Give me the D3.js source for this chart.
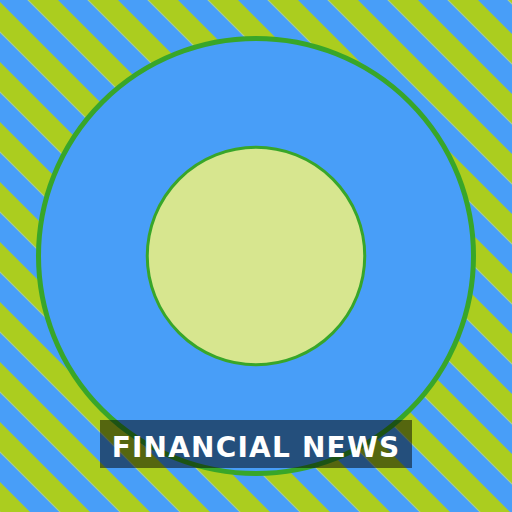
<!DOCTYPE html>
<html>
<head>
<meta charset="utf-8">
<script src="https://cdn.jsdelivr.net/npm/d3@7"></script>
<style>
  body { margin: 0; padding: 0; overflow: hidden; }
</style>
</head>
<body>
<div id="mysvg"></div>
<script>
// values
var rings = ["outer", "inner"];
var ringSize = [1, 0.5];
var ringFill = ["#489ef8", "#d7e68f"];
var stripeColors = ["#489ef8", "#abcd1f"];
var labelText = ["FINANCIAL NEWS"];

var w = 512;
var h = 512;
var cx = w / 2, cy = h / 2;

var svg = d3.select("#mysvg")
  .append("svg")
    .attr("width", w)
    .attr("height", h);

// diagonal stripes in the background
var period = 60 / Math.SQRT2;
var pattern = svg.append("defs")
  .append("pattern")
    .attr("id", "stripes")
    .attr("patternUnits", "userSpaceOnUse")
    .attr("width", period)
    .attr("height", period)
    .attr("x", -2 / Math.SQRT2)
    .attr("patternTransform", "rotate(-45)");

var stripeX = d3.scaleBand()
  .domain(stripeColors.map((d, i) => i))
  .range([0, period]);

pattern.selectAll("rect")
  .data(stripeColors)
  .enter().append("rect")
    .attr("x", (d, i) => stripeX(i))
    .attr("y", 0)
    .attr("width", stripeX.bandwidth())
    .attr("height", period)
    .attr("fill", d => d);

svg.append("rect")
   .attr("x", 0)
   .attr("y", 0)
   .attr("width", w)
   .attr("height", h)
   .attr("fill", "url(#stripes)");

var r = d3.scaleLinear()
  .domain([0, 1])
  .range([0, 217.5]);

svg.selectAll("circle.ring")
  .data(rings)
  .enter().append("circle")
    .attr("class", "ring")
    .attr("cx", cx)
    .attr("cy", cy)
    .attr("r", (d, i) => r(ringSize[i]))
    .attr("fill", (d, i) => ringFill[i])
    .attr("stroke", "#38a629")
    .attr("stroke-width", (d, i) => i == 0 ? 5 : 3);

// caption box
var label = svg.append("g").attr("class", "label");
label.append("rect")
    .attr("x", 100)
    .attr("y", 420)
    .attr("width", 312)
    .attr("height", 48)
    .attr("fill", "#000000")
    .attr("fill-opacity", 0.5);

label.selectAll("text")
  .data(labelText)
  .enter().append("text")
    .attr("x", cx)
    .attr("y", 457)
    .attr("text-anchor", "middle")
    .attr("font-family", "DejaVu Sans")
    .attr("font-weight", "bold")
    .attr("font-size", 28)
    .attr("letter-spacing", 1.2)
    .attr("fill", "#ffffff")
    .text(d => d);
</script>
</body>
</html>
